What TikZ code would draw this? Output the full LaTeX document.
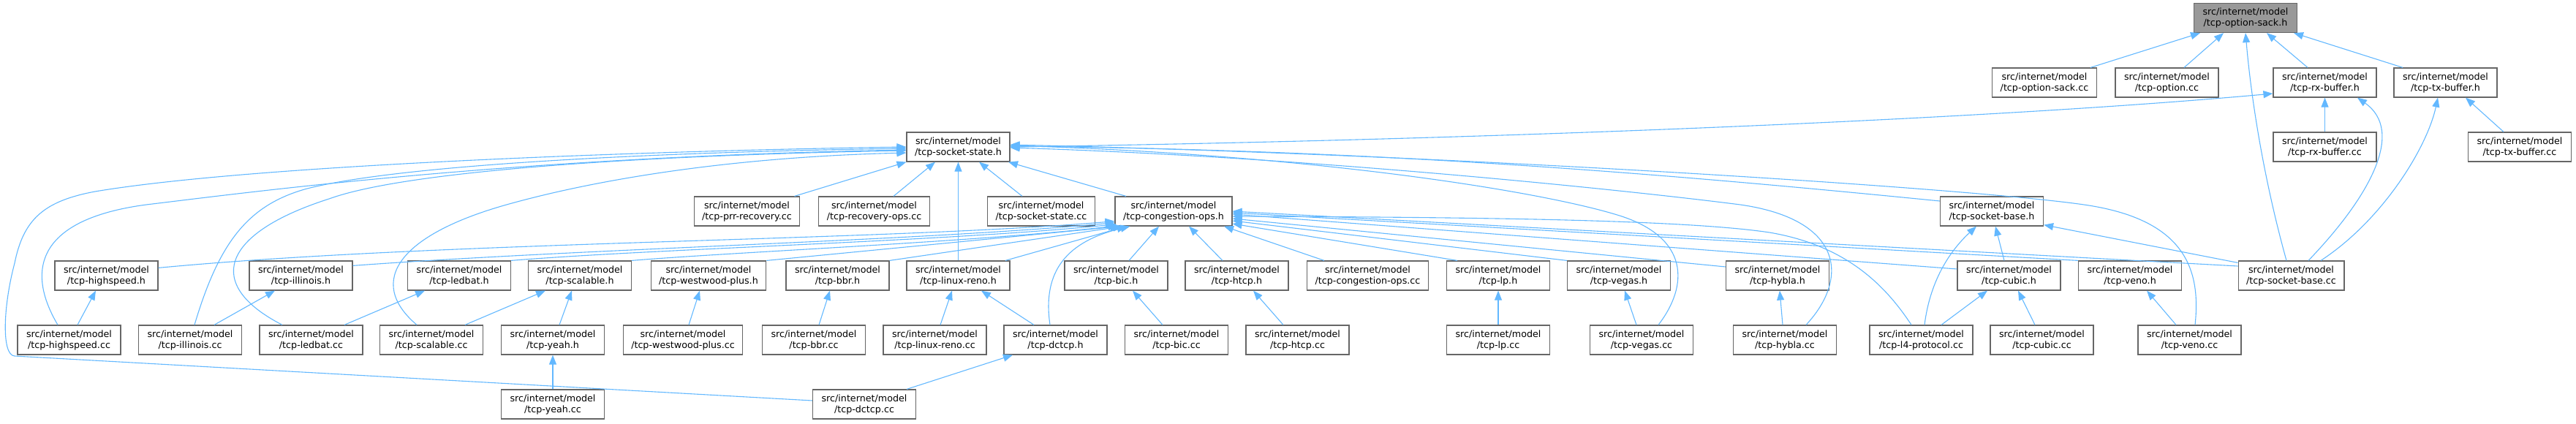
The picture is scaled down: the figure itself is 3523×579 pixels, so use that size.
\documentclass[tikz,border=0pt]{standalone}
\usepackage{fontspec}
\setmainfont{DejaVu Sans}
\usetikzlibrary{arrows.meta}
\definecolor{edgeblue}{HTML}{63B8FF}
\definecolor{boxgray}{HTML}{666666}
\definecolor{topfill}{HTML}{999999}
\begin{document}
\begin{tikzpicture}[x=1pt,y=-1pt,
  box/.style={draw=boxgray,line width=1.2pt,fill=white,align=center,minimum width=141pt,minimum height=40pt,inner xsep=11pt,inner ysep=3pt,font=\fontsize{12.7pt}{15pt}\selectfont},
  topbox/.style={box,fill=topfill},
  edge/.style={draw=edgeblue,line width=1.1pt,-{Triangle[length=13pt,width=10pt]}}]
\useasboundingbox (0,0) rectangle (3523,579);
% row 0
\node[topbox] (top) at (3071,24.5) {src/internet/model\\/tcp-option-sack.h};
% row 1
\node[box] (optsackcc) at (2796,113) {src/internet/model\\/tcp-option-sack.cc};
\node[box] (optcc) at (2963.5,113) {src/internet/model\\/tcp-option.cc};
\node[box] (rxh) at (3179.5,113) {src/internet/model\\/tcp-rx-buffer.h};
\node[box] (txh) at (3344.5,113) {src/internet/model\\/tcp-tx-buffer.h};
% row 2
\node[box] (ssh) at (1310.5,201) {src/internet/model\\/tcp-socket-state.h};
\node[box] (rxcc) at (3179.5,201) {src/internet/model\\/tcp-rx-buffer.cc};
\node[box] (txcc) at (3446,201) {src/internet/model\\/tcp-tx-buffer.cc};
% row 3
\node[box] (prr) at (1021.5,289) {src/internet/model\\/tcp-prr-recovery.cc};
\node[box] (recops) at (1195.5,289) {src/internet/model\\/tcp-recovery-ops.cc};
\node[box] (sscc) at (1424,289) {src/internet/model\\/tcp-socket-state.cc};
\node[box] (congh) at (1605,289) {src/internet/model\\/tcp-congestion-ops.h};
\node[box] (sbh) at (2724,289) {src/internet/model\\/tcp-socket-base.h};
% row 4
\node[box] (hsh) at (145.5,377) {src/internet/model\\/tcp-highspeed.h};
\node[box] (illh) at (411.5,377) {src/internet/model\\/tcp-illinois.h};
\node[box] (ledh) at (628,377) {src/internet/model\\/tcp-ledbat.h};
\node[box] (scalh) at (793,377) {src/internet/model\\/tcp-scalable.h};
\node[box] (wwh) at (969,377) {src/internet/model\\/tcp-westwood-plus.h};
\node[box] (bbrh) at (1145.5,377) {src/internet/model\\/tcp-bbr.h};
\node[box] (lrh) at (1310.5,377) {src/internet/model\\/tcp-linux-reno.h};
\node[box] (bich) at (1526.5,377) {src/internet/model\\/tcp-bic.h};
\node[box] (htcph) at (1691.5,377) {src/internet/model\\/tcp-htcp.h};
\node[box] (congcc) at (1870.5,377) {src/internet/model\\/tcp-congestion-ops.cc};
\node[box] (lph) at (2049,377) {src/internet/model\\/tcp-lp.h};
\node[box] (vegh) at (2214,377) {src/internet/model\\/tcp-vegas.h};
\node[box] (hybh) at (2431,377) {src/internet/model\\/tcp-hybla.h};
\node[box] (cubh) at (2747.5,377) {src/internet/model\\/tcp-cubic.h};
\node[box] (venh) at (2913,377) {src/internet/model\\/tcp-veno.h};
\node[box] (sbcc) at (3133.5,377) {src/internet/model\\/tcp-socket-base.cc};
% row 5
\node[box] (hscc) at (94.5,465) {src/internet/model\\/tcp-highspeed.cc};
\node[box] (illcc) at (260,465) {src/internet/model\\/tcp-illinois.cc};
\node[box] (ledcc) at (425.5,465) {src/internet/model\\/tcp-ledbat.cc};
\node[box] (scalcc) at (590,465) {src/internet/model\\/tcp-scalable.cc};
\node[box] (yeahh) at (756,465) {src/internet/model\\/tcp-yeah.h};
\node[box] (wwcc) at (934,465) {src/internet/model\\/tcp-westwood-plus.cc};
\node[box] (bbrcc) at (1113,465) {src/internet/model\\/tcp-bbr.cc};
\node[box] (lrcc) at (1278.5,465) {src/internet/model\\/tcp-linux-reno.cc};
\node[box] (dcth) at (1443.5,465) {src/internet/model\\/tcp-dctcp.h};
\node[box] (biccc) at (1609,465) {src/internet/model\\/tcp-bic.cc};
\node[box] (htcpcc) at (1774.5,465) {src/internet/model\\/tcp-htcp.cc};
\node[box] (lpcc) at (2049,465) {src/internet/model\\/tcp-lp.cc};
\node[box] (vegcc) at (2245,465) {src/internet/model\\/tcp-vegas.cc};
\node[box] (hybcc) at (2441,465) {src/internet/model\\/tcp-hybla.cc};
\node[box] (l4cc) at (2627.5,465) {src/internet/model\\/tcp-l4-protocol.cc};
\node[box] (cubcc) at (2792.5,465) {src/internet/model\\/tcp-cubic.cc};
\node[box] (vencc) at (2994.5,465) {src/internet/model\\/tcp-veno.cc};
% row 6
\node[box] (yeahcc) at (756,553) {src/internet/model\\/tcp-yeah.cc};
\node[box] (dctcc) at (1182,553) {src/internet/model\\/tcp-dctcp.cc};

% ---- edges into top node
\draw[edge] ([xshift=63pt]optsackcc.north) -- ([xshift=-62pt]top.south);
\draw[edge] ([xshift=23.5pt]optcc.north) -- ([xshift=-30pt]top.south);
\draw[edge] ([xshift=-23.5pt]rxh.north) -- ([xshift=29pt]top.south);
\draw[edge] ([xshift=-58.5pt]txh.north) -- ([xshift=66pt]top.south);
\draw[edge] ([xshift=-6.5pt]sbcc.north) .. controls (3100,260) and (3080,150) .. (top.south);
% ---- rx / tx buffers
\draw[edge] (ssh.east) .. controls (2000,192) and (2700,165) .. ([yshift=-15pt]rxh.west);
\draw[edge] (rxcc.north) -- (rxh.south);
\draw[edge] ([xshift=-22pt]txcc.north) -- ([xshift=27.5pt]txh.south);
\draw[edge] ([xshift=23.5pt]sbcc.north) .. controls (3240,270) and (3290,180) .. ([xshift=44.5pt]rxh.south);
\draw[edge] ([xshift=40.5pt]sbcc.north) .. controls (3260,300) and (3320,200) .. ([xshift=-10.5pt]txh.south);
% ---- into socket-state.h from below
\draw[edge] ([xshift=65pt]prr.north) -- ([xshift=-71pt]ssh.south);
\draw[edge] ([xshift=26.5pt]recops.north) -- ([xshift=-31.5pt]ssh.south);
\draw[edge] (lrh.north) -- (ssh.south);
\draw[edge] ([xshift=-26pt]sscc.north) -- ([xshift=28.5pt]ssh.south);
\draw[edge] ([xshift=-65pt]congh.north) -- ([xshift=68.5pt]ssh.south);
% ---- into socket-state.h from the right
\draw[edge] ([yshift=14pt]sbh.west) .. controls (2300,240) and (1900,205) .. ([yshift=1pt]ssh.east);
\draw[edge] ([xshift=23pt]vegcc.north) .. controls (2310,390) and (2310,325) .. (2215,295) .. controls (2110,262) and (1800,212) .. ([yshift=2pt]ssh.east);
\draw[edge] ([xshift=29pt]hybcc.north) .. controls (2530,380) and (2520,300) .. (2380,280) .. controls (2240,262) and (1800,215) .. ([yshift=-1pt]ssh.east);
\draw[edge] ([xshift=7.5pt]vencc.north) .. controls (3010,370) and (2990,300) .. (2850,280) .. controls (2700,258) and (2000,212) .. ([yshift=3pt]ssh.east);
% ---- into socket-state.h from the left
\draw[edge] ([xshift=-15.5pt]hscc.north) .. controls (35,370) and (50,300) .. (200,280) .. controls (350,262) and (700,215) .. ([yshift=-4pt]ssh.west);
\draw[edge] ([xshift=6pt]illcc.north) .. controls (300,330) and (340,280) .. (420,258) .. controls (550,225) and (900,208) .. ([yshift=-2pt]ssh.west);
\draw[edge] ([xshift=-39.5pt]ledcc.north) .. controls (280,390) and (300,320) .. (450,272) .. controls (560,232) and (900,212) .. ([yshift=-5pt]ssh.west);
\draw[edge] ([xshift=-20pt]scalcc.north) .. controls (500,385) and (545,320) .. (700,278) .. controls (820,245) and (1000,215) .. ([yshift=-8pt]ssh.west);
\draw[edge] ([yshift=5pt]dctcc.west) -- (20,487) .. controls (2,486) and (4,420) .. (20,360) .. controls (32,300) and (60,275) .. (130,262) .. controls (350,225) and (900,206) .. (ssh.west);
% ---- into congestion-ops.h from the left
\draw[edge] ([yshift=-10pt]hsh.north east) .. controls (600,330) and (1200,330) .. ([yshift=7pt]congh.south west);
\draw[edge] ([yshift=-7pt]illh.north east) .. controls (800,340) and (1250,330) .. ([yshift=5pt]congh.south west);
\draw[edge] (ledh.north east) .. controls (900,340) and (1300,330) .. ([xshift=2pt,yshift=3pt]congh.south west);
\draw[edge] (scalh.north east) .. controls (1000,345) and (1350,330) .. ([xshift=4pt,yshift=1pt]congh.south west);
\draw[edge] (wwh.north east) -- ([xshift=7pt]congh.south west);
\draw[edge] (bbrh.north east) -- ([xshift=11pt]congh.south west);
\draw[edge] ([xshift=64.5pt]lrh.north) -- ([xshift=16pt]congh.south west);
\draw[edge] ([xshift=-7.5pt]dcth.north) .. controls (1425,370) and (1460,330) .. ([xshift=21pt]congh.south west);
\draw[edge] ([xshift=17.5pt]bich.north) -- ([xshift=-20pt]congh.south);
\draw[edge] ([xshift=-19.5pt]htcph.north) -- ([xshift=21pt]congh.south);
\draw[edge] ([xshift=-59.5pt]congcc.north) -- ([xshift=69pt]congh.south);
% ---- into congestion-ops.h from the right
\draw[edge] ([xshift=-56pt]lph.north) -- ([yshift=-17pt]congh.east);
\draw[edge] (vegh.north west) -- ([yshift=-13pt]congh.east);
\draw[edge] ([yshift=12pt]hybh.west) -- ([yshift=-10pt]congh.east);
\draw[edge] ([xshift=-13.5pt]l4cc.north) .. controls (2575,385) and (2520,335) .. (2420,318) .. controls (2300,300) and (2000,297) .. ([yshift=-7pt]congh.east);
\draw[edge] ([yshift=9pt]cubh.west) -- ([yshift=-4pt]congh.east);
\draw[edge] (venh.north west) -- ([yshift=-2pt]congh.east);
\draw[edge] ([yshift=13pt]sbcc.west) -- (congh.east);
% ---- lower levels
\draw[edge] ([xshift=11.5pt]hscc.north) -- ([xshift=-14.5pt]hsh.south);
\draw[edge] ([xshift=33pt]illcc.north) -- ([xshift=-35.5pt]illh.south);
\draw[edge] ([xshift=45.5pt]ledcc.north) -- ([xshift=-47pt]ledh.south);
\draw[edge] ([xshift=46pt]scalcc.north) -- ([xshift=-47pt]scalh.south);
\draw[edge] ([xshift=9pt]yeahh.north) -- ([xshift=-11pt]scalh.south);
\draw[edge] (yeahcc.north) -- (yeahh.south);
\draw[edge] ([xshift=8pt]wwcc.north) -- ([xshift=-12pt]wwh.south);
\draw[edge] ([xshift=7pt]bbrcc.north) -- ([xshift=-10.5pt]bbrh.south);
\draw[edge] ([xshift=7.5pt]lrcc.north) -- ([xshift=-8.5pt]lrh.south);
\draw[edge] ([xshift=-29.5pt]dcth.north) -- ([xshift=31.5pt]lrh.south);
\draw[edge] ([xshift=58pt]dctcc.north) -- ([xshift=-58.5pt]dcth.south);
\draw[edge] ([xshift=-19pt]biccc.north) -- ([xshift=22.5pt]bich.south);
\draw[edge] ([xshift=-19.5pt]htcpcc.north) -- ([xshift=22.5pt]htcph.south);
\draw[edge] (lpcc.north) -- (lph.south);
\draw[edge] ([xshift=-7pt]vegcc.north) -- ([xshift=8pt]vegh.south);
\draw[edge] ([xshift=-3pt]hybcc.north) -- ([xshift=3pt]hybh.south);
\draw[edge] ([xshift=27.5pt]l4cc.north) -- ([xshift=-29.5pt]cubh.south);
\draw[edge] ([xshift=-9.5pt]cubcc.north) -- ([xshift=12.5pt]cubh.south);
\draw[edge] ([xshift=-18.5pt]vencc.north) -- ([xshift=23pt]venh.south);
\draw[edge] ([xshift=4.5pt]l4cc.north) .. controls (2640,380) and (2670,340) .. ([xshift=-21pt]sbh.south);
\draw[edge] ([xshift=-6.5pt]cubh.north) -- ([xshift=5pt]sbh.south);
\draw[edge] ([yshift=-3pt]sbcc.north west) -- ([yshift=2pt]sbh.south east);
\end{tikzpicture}
\end{document}
